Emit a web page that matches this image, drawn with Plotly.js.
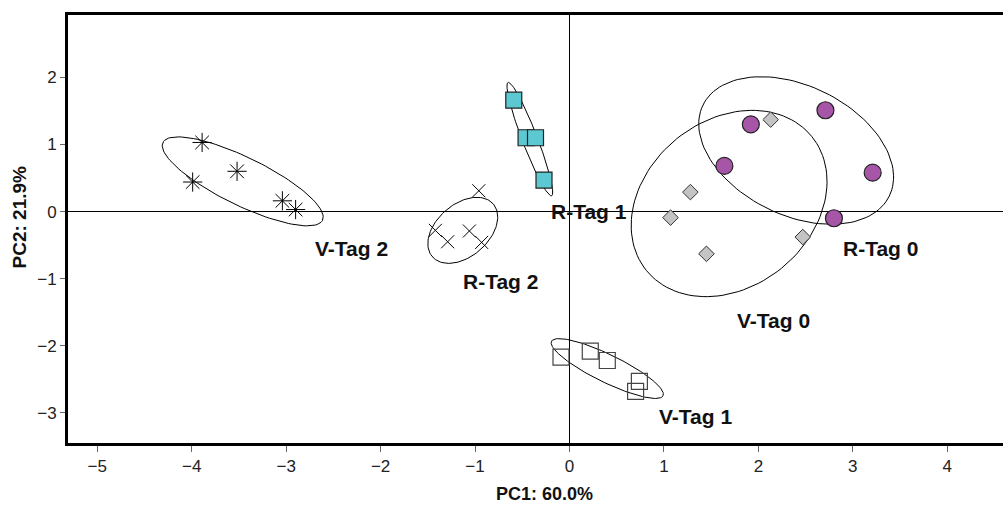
<!DOCTYPE html>
<html>
<head>
<meta charset="utf-8">
<script src="https://cdn.plot.ly/plotly-3.0.1.min.js"></script>
<style>html,body{margin:0;padding:0;background:#fff;}#chart{width:1003px;height:506px;}</style>
</head>
<body>
<div id="chart"></div>
<script>
// ---- data (PC1, PC2 scores) ----
const groups = ["V-Tag 0", "V-Tag 1", "V-Tag 2", "R-Tag 0", "R-Tag 1", "R-Tag 2"];

const vTag0X = [2.13, 1.28, 1.07, 1.45, 2.47];
const vTag0Y = [1.37, 0.29, -0.09, -0.63, -0.38];

const vTag1X = [-0.09, 0.22, 0.40, 0.74, 0.70];
const vTag1Y = [-2.17, -2.08, -2.22, -2.53, -2.68];

const vTag2X = [-3.89, -3.99, -3.52, -3.04, -2.90];
const vTag2Y = [1.03, 0.44, 0.60, 0.16, 0.03];

const rTag0X = [2.71, 1.92, 1.64, 3.21, 2.80];
const rTag0Y = [1.51, 1.30, 0.68, 0.58, -0.10];

const rTag1X = [-0.59, -0.46, -0.36, -0.27];
const rTag1Y = [1.66, 1.10, 1.10, 0.47];

const rTag2X = [-0.96, -1.42, -1.29, -1.06, -0.93];
const rTag2Y = [0.31, -0.28, -0.45, -0.29, -0.46];

// confidence ellipses: centre, semi-axes (in PC1 units), rotation (deg)
const ellCX  = [1.69, 0.40, -3.46, 2.40, -0.42, -1.13];
const ellCY  = [0.12, -2.34, 0.45, 0.91, 1.08, -0.28];
const ellA   = [1.127, 0.657, 0.940, 1.098, 0.643, 0.427];
const ellB   = [0.882, 0.147, 0.254, 0.685, 0.080, 0.277];
const ellAng = [39, -26, -26, -26, -69, 41];

// label positions
const labelX = [2.16, 1.33, -2.31, 3.29, 0.21, -0.73];
const labelY = [-1.62, -3.06, -0.55, -0.55, 0.0, -1.04];

// ---- layout geometry ----
const W = 1003, H = 506;
const M = {l: 68, r: 0, t: 15, b: 63};
const xRange = [-5.31, 4.59];
const yRange = [-3.45, 2.93];
const pxX = (W - M.l - M.r) / (xRange[1] - xRange[0]);
const pxY = (H - M.t - M.b) / (yRange[1] - yRange[0]);

function ellipse(i) {
  const xs = [], ys = [];
  const phi = ellAng[i] * Math.PI / 180;
  const n = 120;
  for (let k = 0; k <= n; k++) {
    const t = 2 * Math.PI * k / n;
    const u = ellA[i] * Math.cos(t), v = ellB[i] * Math.sin(t);
    const dx = (u * Math.cos(phi) - v * Math.sin(phi)) * pxX;
    const dy = (u * Math.sin(phi) + v * Math.cos(phi)) * pxX;
    xs.push(ellCX[i] + dx / pxX);
    ys.push(ellCY[i] + dy / pxY);
  }
  return {x: xs, y: ys};
}

const traces = [];
for (let i = 0; i < groups.length; i++) {
  const e = ellipse(i);
  traces.push({x: e.x, y: e.y, mode: 'lines', line: {color: '#000', width: 1}, hoverinfo: 'skip', showlegend: false});
}

traces.push({x: vTag2X, y: vTag2Y, mode: 'markers', name: 'V-Tag 2',
  marker: {symbol: 'asterisk-open', size: 16, color: '#000', line: {color: '#000', width: 1}}});
traces.push({x: rTag2X, y: rTag2Y, mode: 'markers', name: 'R-Tag 2',
  marker: {symbol: 'x-thin-open', size: 13, color: '#000', line: {color: '#000', width: 1}}});
traces.push({x: rTag1X, y: rTag1Y, mode: 'markers', name: 'R-Tag 1',
  marker: {symbol: 'square', size: 16, color: '#5BC8D2', line: {color: '#222', width: 1.2}}});
traces.push({x: vTag1X, y: vTag1Y, mode: 'markers', name: 'V-Tag 1',
  marker: {symbol: 'square', size: 16, color: 'rgba(255,255,255,0)', line: {color: '#444', width: 1.2}}});
traces.push({x: vTag0X, y: vTag0Y, mode: 'markers', name: 'V-Tag 0',
  marker: {symbol: 'diamond', size: 12, color: '#C4C4C4', line: {color: '#333', width: 1}}});
traces.push({x: rTag0X, y: rTag0Y, mode: 'markers', name: 'R-Tag 0',
  marker: {symbol: 'circle', size: 17, color: '#A755A7', line: {color: '#222', width: 1.2}}});

const annotations = groups.map((g, i) => ({
  x: labelX[i], y: labelY[i], xref: 'x', yref: 'y', text: '<b>' + g + '</b>', showarrow: false,
  font: {family: 'Liberation Sans, Arial, sans-serif', size: 21, color: '#111'},
  xanchor: 'center', yanchor: 'middle'
}));
annotations.push({x: (544 - M.l) / (W - M.l - M.r), y: (H - M.b - 494) / (H - M.t - M.b),
  xref: 'paper', yref: 'paper', text: '<b>PC1: 60.0%</b>', showarrow: false,
  font: {family: 'Liberation Sans, Arial, sans-serif', size: 18, color: '#111'},
  xanchor: 'center', yanchor: 'middle', borderpad: 0});
annotations.push({x: (19 - M.l) / (W - M.l - M.r), y: (H - M.b - 217.5) / (H - M.t - M.b),
  xref: 'paper', yref: 'paper', text: '<b>PC2: 21.9%</b>', showarrow: false, textangle: -90,
  font: {family: 'Liberation Sans, Arial, sans-serif', size: 19, color: '#111'},
  xanchor: 'center', yanchor: 'middle'});

const layout = {
  width: W, height: H, margin: M,
  paper_bgcolor: '#fff', plot_bgcolor: '#fff',
  showlegend: false,
  font: {family: 'Liberation Sans, Arial, sans-serif', color: '#222'},
  xaxis: {range: xRange, dtick: 1, tick0: 0, showgrid: false,
    zeroline: true, zerolinecolor: '#000', zerolinewidth: 1,
    showline: true, linecolor: '#000', linewidth: 3, mirror: true,
    ticks: 'outside', ticklen: 6, tickwidth: 1, tickcolor: '#666',
    tickfont: {size: 17, color: '#222'}},
  yaxis: {range: yRange, dtick: 1, tick0: 0, showgrid: false,
    zeroline: true, zerolinecolor: '#000', zerolinewidth: 1,
    showline: true, linecolor: '#000', linewidth: 3, mirror: false,
    ticks: 'outside', ticklen: 5, tickwidth: 1, tickcolor: '#666',
    tickfont: {size: 17, color: '#222'}},
  annotations: annotations
};

Plotly.newPlot('chart', traces, layout, {displayModeBar: false, staticPlot: true});
</script>
</body>
</html>
